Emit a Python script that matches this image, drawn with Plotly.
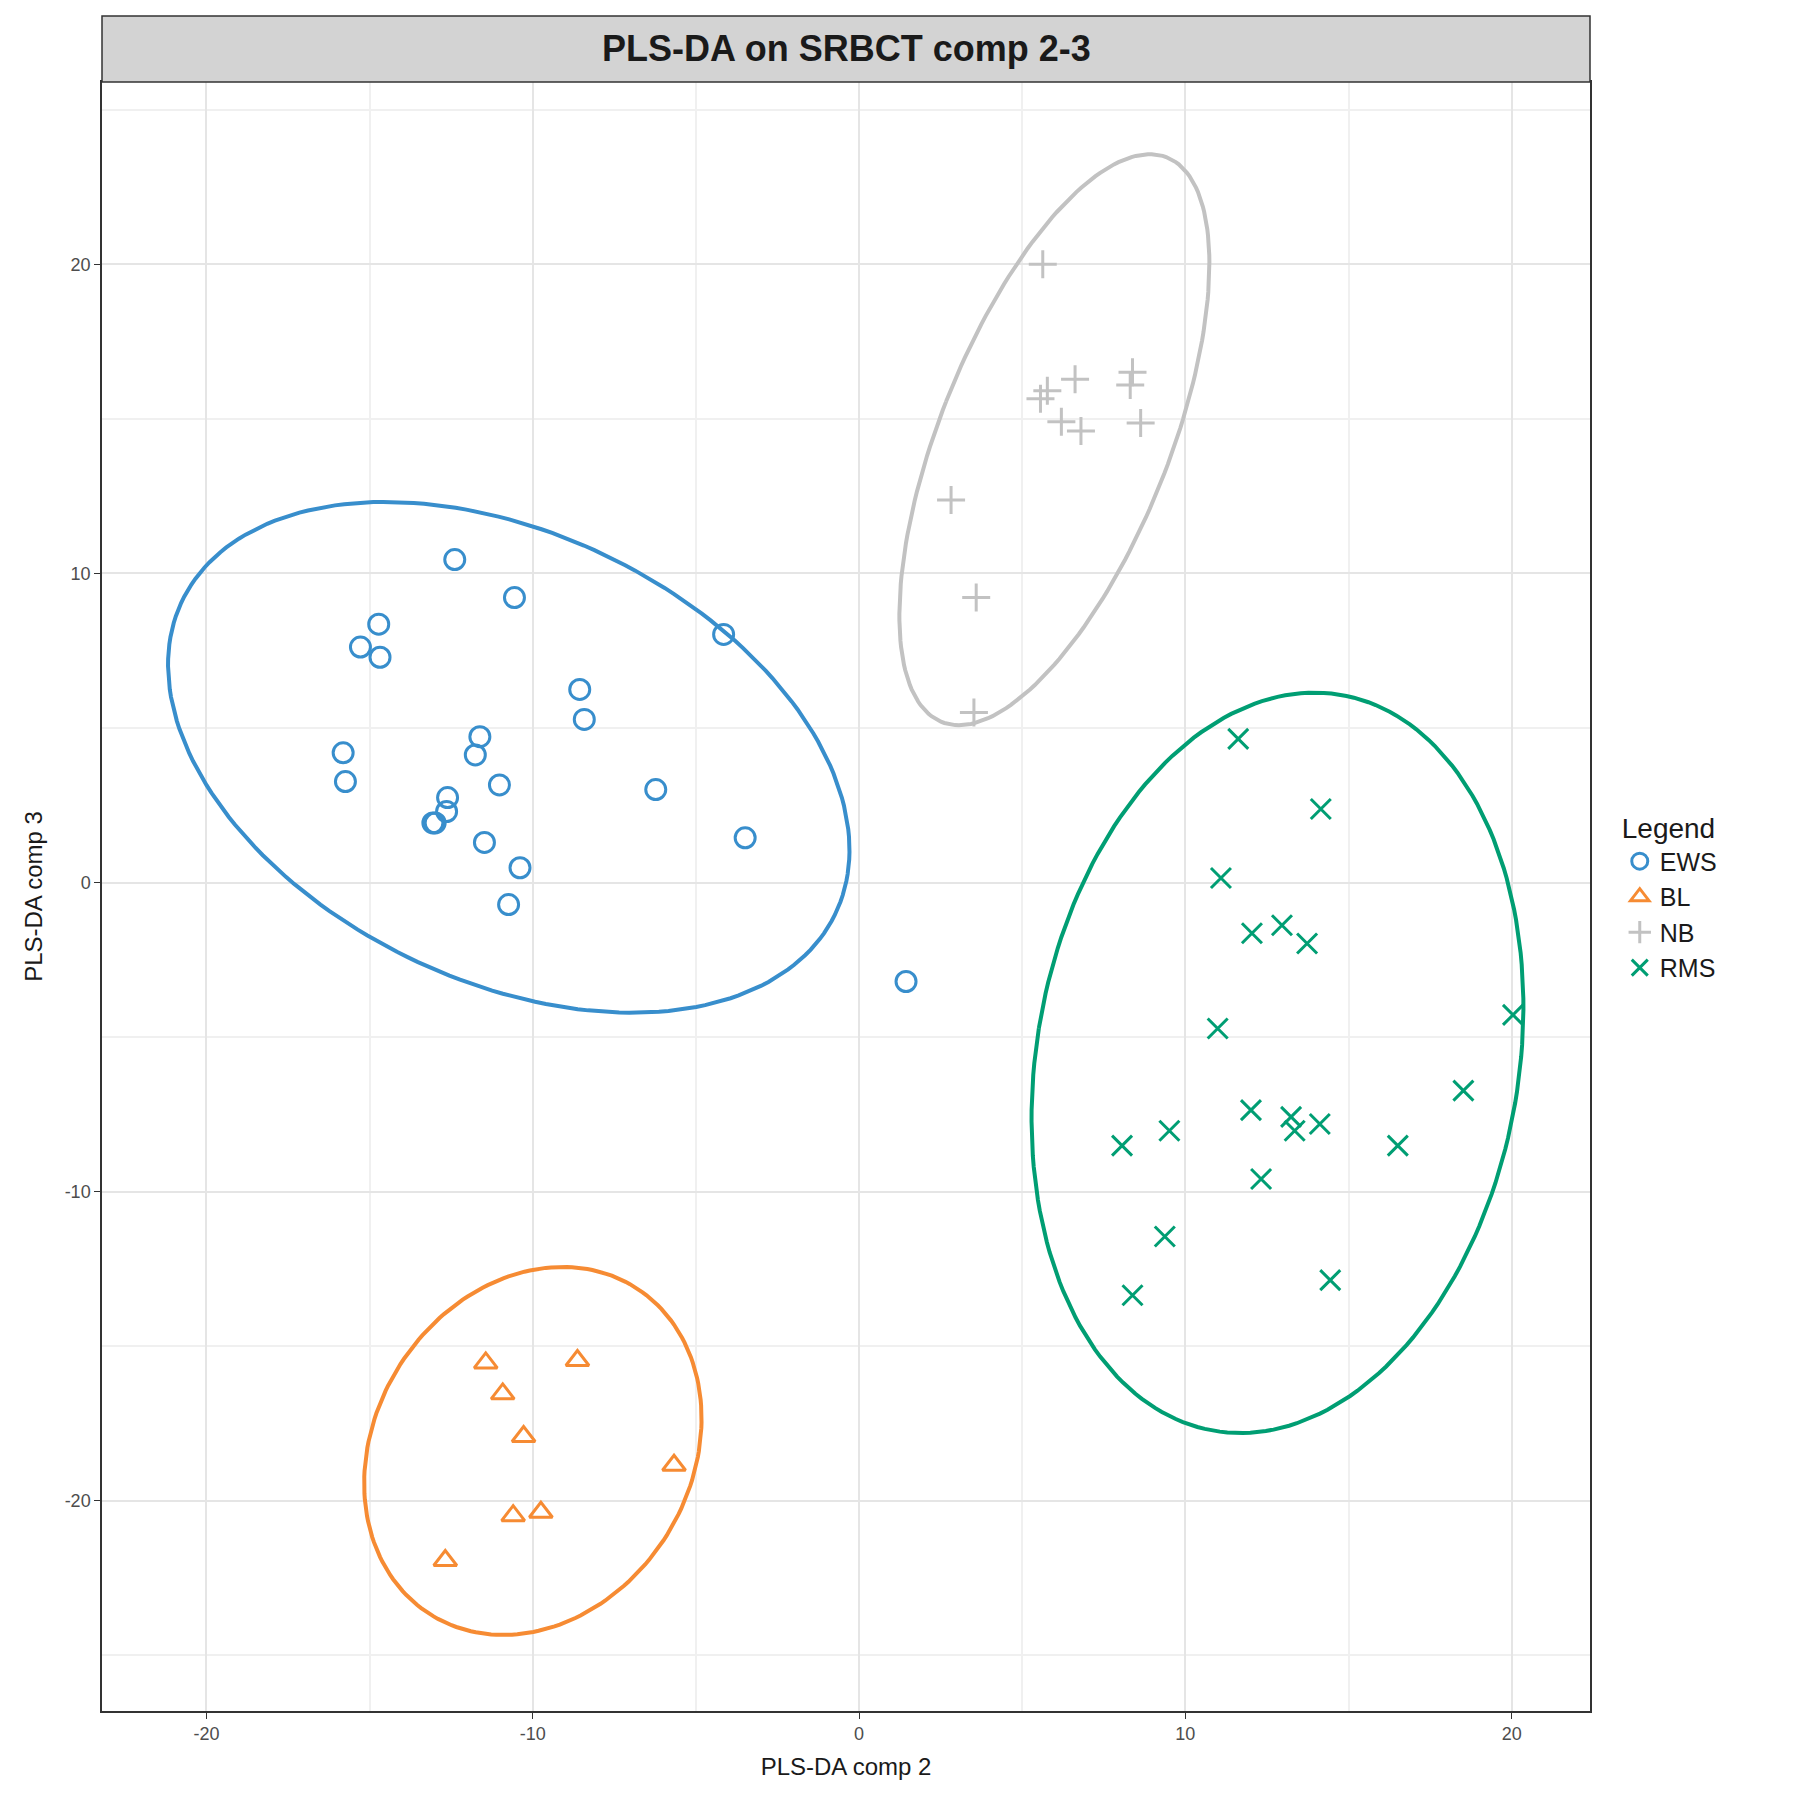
import numpy as np
import plotly.graph_objects as go

groups = ["EWS", "BL", "NB", "RMS"]
colors = {"EWS": "#388ECC", "BL": "#F68B33", "NB": "#C2C2C2", "RMS": "#009E73"}
symbols = {"EWS": "circle-open", "BL": "triangle-up-open", "NB": "cross-thin-open", "RMS": "x-thin-open"}

ews_x = [-12.39, -10.56, -4.15, -14.72, -15.28, -14.68, -8.56, -8.42, -11.62, -15.81, -11.76, -15.74,
         -11.02, -6.23, -12.61, -12.64, -13.06, -12.99, -11.48, -3.49, -10.39, -10.74, 1.44]
ews_y = [10.45, 9.22, 8.03, 8.36, 7.62, 7.29, 6.25, 5.28, 4.72, 4.20, 4.13, 3.27,
         3.16, 3.01, 2.75, 2.30, 1.93, 1.93, 1.30, 1.45, 0.48, -0.71, -3.20]
bl_x = [-11.44, -8.63, -10.92, -10.28, -5.67, -9.75, -10.60, -12.68]
bl_y = [-15.54, -15.46, -16.54, -17.92, -18.85, -20.37, -20.48, -21.93]
nb_x = [5.63, 5.77, 5.56, 6.62, 8.38, 8.31, 6.20, 6.80, 8.63, 2.82, 3.59, 3.52]
nb_y = [20.0, 15.91, 15.65, 16.28, 16.51, 16.10, 14.91, 14.61, 14.87, 12.38, 9.22, 5.50]
rms_x = [11.62, 14.15, 11.09, 12.04, 12.96, 13.73, 10.99, 20.04, 18.52, 12.01, 13.24, 13.35, 14.12,
         9.51, 8.06, 16.51, 12.32, 9.37, 8.38, 14.44]
rms_y = [4.65, 2.38, 0.15, -1.64, -1.38, -1.97, -4.72, -4.28, -6.73, -7.36, -7.58, -8.03, -7.81,
         -8.03, -8.51, -8.51, -9.59, -11.45, -13.35, -12.86]
tick_vals = [-20, -10, 0, 10, 20]
tick_text = ["-20", "-10", "0", "10", "20"]

data = {"EWS": (ews_x, ews_y), "BL": (bl_x, bl_y), "NB": (nb_x, nb_y), "RMS": (rms_x, rms_y)}


def ellipse(x, y, level_t=2.4477, n=200):
    pts = np.column_stack([x, y])
    c = pts.mean(axis=0)
    cov = np.cov(pts.T)
    vals, vecs = np.linalg.eigh(cov)
    t = np.linspace(0, 2 * np.pi, n)
    circ = np.column_stack([np.cos(t), np.sin(t)]) * np.sqrt(vals) * level_t
    e = circ @ vecs.T + c
    return e[:, 0], e[:, 1]


fig = go.Figure()
for g in groups:
    x, y = data[g]
    fig.add_trace(go.Scatter(x=x, y=y, mode="markers", name=g,
                             marker=dict(symbol=symbols[g], size=20, color=colors[g],
                                         line=dict(width=3, color=colors[g]))))
for g in groups:
    ex, ey = ellipse(*data[g])
    fig.add_trace(go.Scatter(x=ex, y=ey, mode="lines", showlegend=False,
                             line=dict(color=colors[g], width=4), hoverinfo="skip"))

fig.add_shape(type="rect", xref="paper", yref="paper", x0=0, x1=1, y0=1, y1=1.0405,
              fillcolor="#D3D3D3", line=dict(color="#333333", width=1.5))
fig.add_annotation(text="<b>PLS-DA on SRBCT comp 2-3</b>", xref="paper", yref="paper",
                   x=0.5, y=1.0203, yanchor="middle", showarrow=False,
                   font=dict(size=36, color="#1a1a1a"))

axis = dict(showgrid=True, gridcolor="#E5E5E5", gridwidth=1.5, zeroline=False,
            showline=True, mirror=True, linecolor="#333333", linewidth=1.5,
            ticks="outside", tickcolor="#333333", ticklen=6,
            tickvals=tick_vals, ticktext=tick_text,
            tickfont=dict(size=18, color="#4d4d4d"),
            minor=dict(showgrid=True, gridcolor="#F0F0F0", dtick=5, tick0=-25))
fig.update_xaxes(axis, range=[-23.2, 22.4], title=dict(text="PLS-DA comp 2", font=dict(size=24)))
fig.update_yaxes(axis, range=[-26.8, 25.9], title=dict(text="PLS-DA comp 3", font=dict(size=24)))

fig.update_layout(
    width=1800, height=1800, plot_bgcolor="white", paper_bgcolor="white",
    font=dict(family="Liberation Sans, Arial", color="#1a1a1a"),
    margin=dict(l=94, r=218, t=74, b=97),
    legend=dict(title=dict(text="Legend", font=dict(size=28)), font=dict(size=25),
                x=1.02, y=0.5, yanchor="middle", xanchor="left", itemsizing="trace",
                tracegroupgap=4),
)
fig.write_html("out.html")
